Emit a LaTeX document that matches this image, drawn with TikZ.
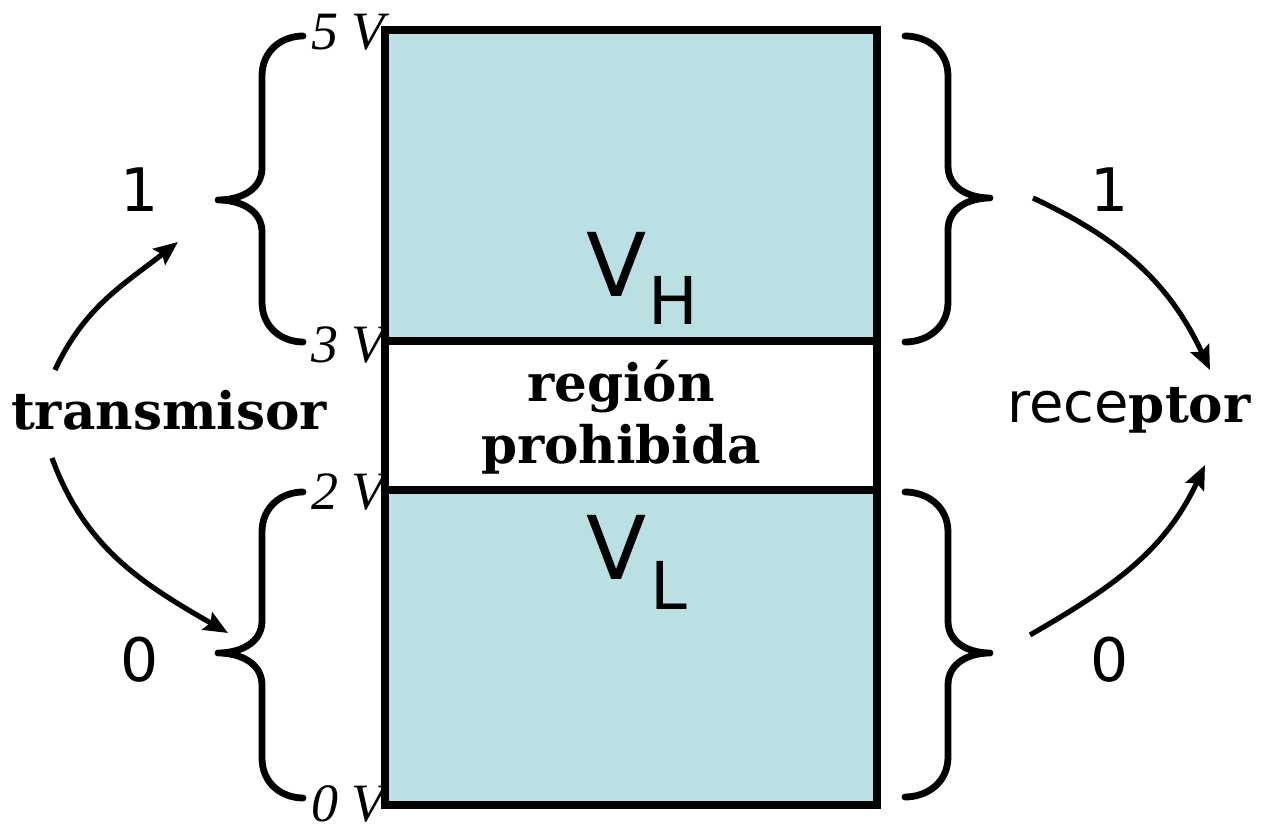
\documentclass[tikz,border=0pt]{standalone}
\usepackage{fontspec}
\setmainfont{DejaVu Serif}
\newfontfamily\manofont{DejaVu Sans}
\newfontfamily\voltfont{Liberation Serif}
\usetikzlibrary{arrows.meta,positioning}
\definecolor{celeste}{HTML}{BBE0E3}

\begin{document}
\begin{tikzpicture}[x=0.5pt, y=0.5pt,
  borde/.style={line width=3.8pt},
  llave/.style={line width=3.4pt, line cap=round, line join=round},
  flecha/.style={line width=2.6pt, -{Stealth[length=12pt,width=10pt,inset=2pt]}},
  volt/.style={font=\voltfont\itshape\fontsize{27}{27}\selectfont, anchor=east, inner sep=0pt},
  bit/.style={font=\manofont\fontsize{30}{30}\selectfont},
  letra/.style={font=\manofont\fontsize{44}{44}\selectfont, anchor=base west, inner sep=0pt},
  sub/.style={font=\manofont\fontsize{33}{33}\selectfont, anchor=base west, inner sep=0pt},
  titulo/.style={font=\bfseries\fontsize{25.8}{31}\selectfont, align=center}
]
\useasboundingbox (0,0) rectangle (1275,824);
\fill[celeste] (385,483) rectangle (877,794);
\fill[celeste] (385,19) rectangle (877,334);
\draw[borde] (385,19) rectangle (877,794);
\draw[borde] (385,483) -- (877,483) (385,334) -- (877,334);

\node[titulo] (zona) at (621,407) {región\\prohibida};
\node[letra] (vh) at (586,527) {V};
\node[sub] (h) at (648,499) {H};
\node[letra] (vl) at (586,244) {V};
\node[sub] (l) at (650,214) {L};

\node[volt] (v5) at (385,792) {5 V};
\node[volt] (v3) at (385,479) {3 V};
\node[volt] (v2) at (385,332) {2 V};
\node[volt] (v0) at (385,20) {0 V};

\foreach \xe/\xv/\xp/\yt/\yp/\yb in {303/262/218/788/624/482, 303/262/218/332/171/26,
                                     905/948/990/788/626/482, 905/948/990/332/171/27}
  \draw[llave] (\xe,\yt) .. controls ({(\xe+\xv)/2},\yt) and (\xv,{\yt-14}) .. (\xv,{\yt-40})
    -- (\xv,{\yp+32}) .. controls (\xv,{\yp+10}) and ({(\xv+\xp)/2},\yp) .. (\xp,\yp)
    .. controls ({(\xv+\xp)/2},\yp) and (\xv,{\yp-10}) .. (\xv,{\yp-32})
    -- (\xv,{\yb+40}) .. controls (\xv,{\yb+14}) and ({(\xe+\xv)/2},\yb) .. (\xe,\yb);

\node[bit] (uno1) at (140,634) {1};
\node[bit] (cero1) at (140,164) {0};
\node[bit] (uno2) at (1110,634) {1};
\node[bit] (cero2) at (1110,164) {0};

\node[titulo] (tx) at (169,414) {transmisor};
\node[titulo] (rx) at (1129,414) {{\manofont\mdseries\fontsize{28}{31}\selectfont rece}ptor};

\coordinate (t1) at (55,454);
\coordinate (t0) at (52,366);
\coordinate (r1) at (1210,454);
\coordinate (r0) at (1205,359);
\coordinate (e1) at (178,582);
\coordinate (e0) at (228,191);
\coordinate (s1) at (1033,626);
\coordinate (s0) at (1030,189);

\draw[flecha] (t1) to[out=65,in=218] (e1);
\draw[flecha] (t0) to[out=-70,in=150] (e0);
\draw[flecha] (s1) to[out=-25,in=115] (r1);
\draw[flecha] (s0) to[out=30,in=245] (r0);
\end{tikzpicture}
\end{document}
